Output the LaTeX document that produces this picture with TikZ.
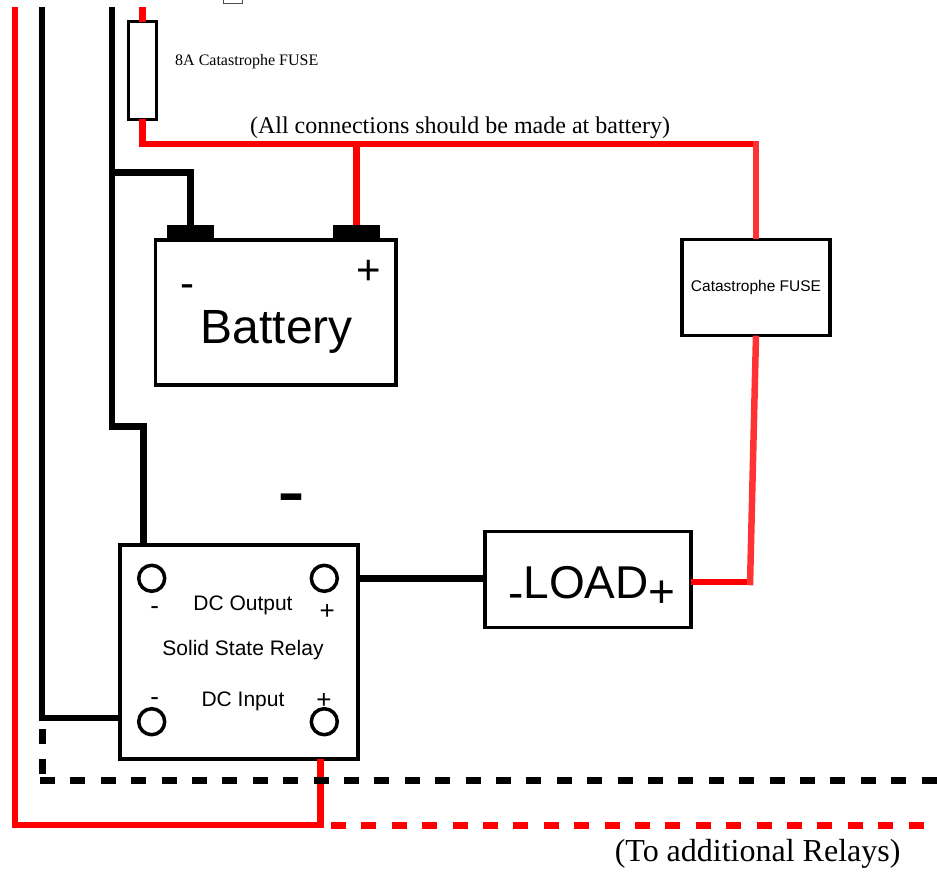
\documentclass[tikz,border=0pt]{standalone}
\usepackage{fontspec}
\setmainfont{Liberation Serif}
\setsansfont{Liberation Sans}
\newcommand{\fsz}[1]{\fontsize{#1}{#1}\selectfont}
\begin{document}
\begin{tikzpicture}[x=1pt,y=-1pt,
 box/.style={draw,line width=3.5pt,inner sep=0pt,outer sep=0pt,anchor=north west},
 post/.style={fill,inner sep=0pt,outer sep=0pt,anchor=north west,minimum width=47.6pt,minimum height=15pt},
 term/.style={draw,circle,line width=3.5pt,minimum size=26pt,inner sep=0pt},
 pluswire/.style={line width=6.5pt,red},
 pluslight/.style={line width=6.5pt,red!80!white},
 minuswire/.style={line width=6.5pt,black},
 dashes/.style={line width=7pt,dash pattern=on 15pt off 15.4pt},
 sans/.style={font=\sffamily\fsz{#1},inner sep=0pt,anchor=base},
 serif/.style={font=\fsz{#1},inner sep=0pt,anchor=base}]
\useasboundingbox (0,0) rectangle (937,873);
%
\node[box,minimum width=240.7pt,minimum height=145pt] (battery) at (155.3,240) {};
\node[post] (bneg) at (166.7,225) {};
\node[post] (bpos) at (332.7,225) {};
\node[sans=48] (lbat) at (276.7,343.3) {Battery};
\node[sans=42] (bminus) at (187.5,297) {-};
\node[sans=42] (bplus) at (368.7,284.5) {+};
%
\node[box,line width=3.3pt,minimum width=28.4pt,minimum height=97.6pt] (fuse8) at (128.3,21.7) {};
\node[serif=16,anchor=base west] (lfuse8) at (175,65) {8A Catastrophe FUSE};
\node[box,minimum width=148pt,minimum height=96.4pt,font=\sffamily\fsz{15.5}] (cfuse) at (682,239.3) {Catastrophe FUSE};
\node[serif=24] (lall) at (460,133) {(All connections should be made at battery)};
%
\node[box,line width=4pt,minimum width=238.3pt,minimum height=214.3pt] (relay) at (120,545) {};
\node[term] (tl) at (151.7,578.3) {};
\node[term] (tr) at (324.3,578.3) {};
\node[term] (bl) at (151.7,721.7) {};
\node[term] (br) at (324.3,721.7) {};
\node[sans=21] (lout) at (243,610) {DC Output};
\node[sans=21] (lssr) at (243,655) {Solid State Relay};
\node[sans=21] (lin) at (243,706.7) {DC Input};
\node[sans=26] (mtl) at (154.7,614) {-};
\node[sans=26] (ptr) at (327.3,619) {+};
\node[sans=26] (mbl) at (154.7,705.5) {-};
\node[sans=26] (pbr) at (324,708) {+};
\node[sans=84] (gnd) at (291,519.7) {-};
%
\node[box,minimum width=206pt,minimum height=96pt] (load) at (485,531.7) {};
\node[sans=46] (lload) at (592,598.3) {\raisebox{-10pt}{-}LOAD\raisebox{-9pt}{+}};
\node[serif=32] (lmore) at (757.6,861) {(To additional Relays)};
%
\draw[line width=1pt,black!70] (223,-10) rectangle (242,3.3);
% positive side
\coordinate (r0) at (15,7);
\coordinate (r1) at (142.5,7);
\coordinate (rbus) at (756,144);
\coordinate (rin) at (320.7,825);
\coordinate (rd0) at (331,825);
\coordinate (rd1) at (925,825);
\coordinate (rl) at (750,582);
\draw[pluswire] (r1) -- (fuse8.north);
\draw[pluswire] (fuse8.south) |- (rbus);
\draw[pluswire] (bpos.north) -- (bpos.north |- rbus);
\draw[pluslight] (cfuse.north) -- ([yshift=3.25pt]rbus);
\draw[pluswire] (load.east |- rl) -- (rl);
\draw[pluslight] (cfuse.south) -- ([yshift=-3.25pt]rl);
\draw[pluswire] (r0) |- (rin) -- (rin |- relay.south);
\draw[pluswire,dashes] (rd0) -- (rd1);
% negative side
\coordinate (k0) at (42,7);
\coordinate (k1) at (112,7);
\coordinate (kin) at (120,718);
\coordinate (kbat) at (112,172.3);
\coordinate (kjog) at (143.3,426.7);
\coordinate (kd0) at (42,729);
\coordinate (kd1) at (42,775);
\coordinate (kd2) at (40,780.5);
\coordinate (kd3) at (937,780.5);
\draw[minuswire] (k0) |- (relay.west |- kin);
\draw[minuswire] (k1) |- (kjog) -- (kjog |- relay.north);
\draw[minuswire] (kbat) -| (bneg.north);
\draw[minuswire] (relay.east |- tr) -- (load.west |- tr);
\draw[minuswire,dashes,dash pattern=on 15pt off 15pt] (kd0) -- (kd1);
\draw[minuswire,dashes] (kd2) -- (kd3);
\end{tikzpicture}
\end{document}
